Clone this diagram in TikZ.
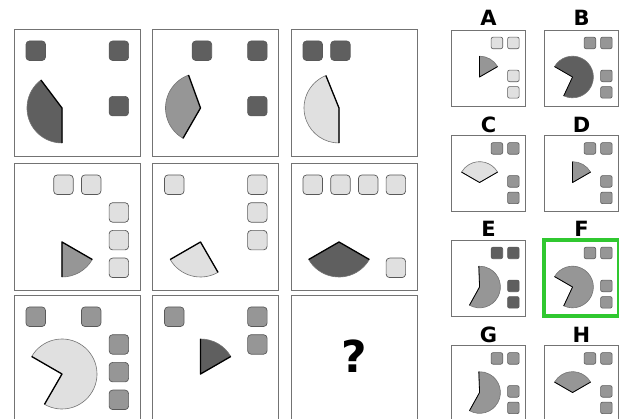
\documentclass[tikz,border=0pt]{standalone}
\usepackage{fontspec}
\setsansfont{DejaVu Sans}
\usetikzlibrary{positioning}
\definecolor{darkfill}{RGB}{95,95,95}
\definecolor{midfill}{RGB}{150,150,150}
\definecolor{lightfill}{RGB}{224,224,224}
\definecolor{framegray}{RGB}{115,115,115}
\definecolor{pickgreen}{RGB}{48,200,48}

% squares on a 4x4 slot grid, #1 fill, #2 list of col/row
\newcommand{\tiles}[2]{%
  \foreach \tx/\ty in {#2}
    \draw[tile,fill=#1] (12+27.7*\tx,-12-27.7*\ty) rectangle ++(19.5,-19.5);}
% circular slice round the hub, #1 fill, #2 start, #3 end angle
\newcommand{\slice}[3]{%
  \filldraw[rim,fill=#1] (48,-79) -- ++(#2:35) arc[start angle=#2,end angle=#3,radius=35] -- cycle;
  \draw[spoke] (48,-79) ++(#2:35) -- (48,-79) -- ++(#3:35);}

\begin{document}
\begin{tikzpicture}[x=1pt,y=1pt,
    frame/.style={draw=framegray,line width=0.9pt},
    tile/.style={draw=black!65,line width=0.7pt,rounded corners=3.5pt},
    spoke/.style={draw=black,line width=1.3pt,line join=round},
    rim/.style={draw=black!55,line width=0.6pt},
    optbox/.style={scale=0.595,
      tile/.append style={rounded corners=2pt,line width=0.6pt},
      spoke/.append style={line width=0.8pt}},
    optlabel/.style={font=\sffamily\bfseries\fontsize{21}{21}\selectfont,inner sep=0pt}]
  \useasboundingbox (0,0) rectangle (619,-419);
  \clip (0,0) rectangle (619,-419);

  % puzzle grid
  \foreach \gx in {14,152.5,291}
    \foreach \gy in {29,163,295}
      \draw[frame] (\gx,-\gy) rectangle ++(126,-127);

  \begin{scope}[shift={(14,-29)}]
    \tiles{darkfill}{0/0,3/0,3/2}
    \slice{darkfill}{127}{270}
  \end{scope}
  \begin{scope}[shift={(152.5,-29)}]
    \tiles{darkfill}{1/0,3/0,3/2}
    \slice{midfill}{110}{240}
  \end{scope}
  \begin{scope}[shift={(291,-29)}]
    \tiles{darkfill}{0/0,1/0}
    \slice{lightfill}{112}{270}
  \end{scope}

  \begin{scope}[shift={(14,-163)}]
    \tiles{lightfill}{1/0,2/0,3/1,3/2,3/3}
    \slice{midfill}{-90}{-30}
  \end{scope}
  \begin{scope}[shift={(152.5,-163)}]
    \tiles{lightfill}{0/0,3/0,3/1,3/2}
    \slice{lightfill}{210}{300}
  \end{scope}
  \begin{scope}[shift={(291,-163)}]
    \tiles{lightfill}{0/0,1/0,2/0,3/0,3/3}
    \slice{darkfill}{210}{330}
  \end{scope}

  \begin{scope}[shift={(14,-295)}]
    \tiles{midfill}{0/0,2/0,3/1,3/2,3/3}
    \slice{lightfill}{240}{510}
  \end{scope}
  \begin{scope}[shift={(152.5,-295)}]
    \tiles{midfill}{0/0,3/0,3/1}
    \slice{darkfill}{30}{90}
  \end{scope}
  \node[font=\sffamily\bfseries\fontsize{44}{44}\selectfont,inner sep=0pt] (qmark) at (354,-356) {?};

  % answer options
  \foreach \ox in {451,544}
    \foreach \oy in {30,135.5,240,345.5}
      \draw[frame] (\ox,-\oy) rectangle ++(74.5,-76);
  \draw[pickgreen,line width=3.3pt] (544,-240) rectangle ++(74.5,-76);

  \node[optlabel] (labA) at (488.5,-18) {A};
  \node[optlabel] (labB) at (581.5,-18) {B};
  \node[optlabel] (labC) at (488.5,-124.5) {C};
  \node[optlabel] (labD) at (581.5,-124.5) {D};
  \node[optlabel] (labE) at (488.5,-229) {E};
  \node[optlabel] (labF) at (581.5,-229) {F};
  \node[optlabel] (labG) at (488.5,-334.5) {G};
  \node[optlabel] (labH) at (581.5,-334.5) {H};

  \begin{scope}[shift={(451,-30)},optbox]
    \tiles{lightfill}{2/0,3/0,3/2,3/3}
    \slice{midfill}{30}{90}
  \end{scope}
  \begin{scope}[shift={(544,-30)},optbox]
    \tiles{midfill}{2/0,3/0,3/2,3/3}
    \slice{darkfill}{245}{510}
  \end{scope}
  \begin{scope}[shift={(451,-135.5)},optbox]
    \tiles{midfill}{2/0,3/0,3/2,3/3}
    \slice{lightfill}{30}{150}
  \end{scope}
  \begin{scope}[shift={(544,-135.5)},optbox]
    \tiles{midfill}{2/0,3/0,3/2,3/3}
    \slice{midfill}{30}{90}
  \end{scope}
  \begin{scope}[shift={(451,-240)},optbox]
    \tiles{darkfill}{2/0,3/0,3/2,3/3}
    \slice{midfill}{-119}{92}
  \end{scope}
  \begin{scope}[shift={(544,-240)},optbox]
    \tiles{midfill}{2/0,3/0,3/2,3/3}
    \slice{midfill}{245}{510}
  \end{scope}
  \begin{scope}[shift={(451,-345.5)},optbox]
    \tiles{midfill}{2/0,3/0,3/2,3/3}
    \slice{midfill}{-119}{92}
  \end{scope}
  \begin{scope}[shift={(544,-345.5)},optbox]
    \tiles{midfill}{2/0,3/0,3/2,3/3}
    \slice{midfill}{30}{150}
  \end{scope}
\end{tikzpicture}
\end{document}
